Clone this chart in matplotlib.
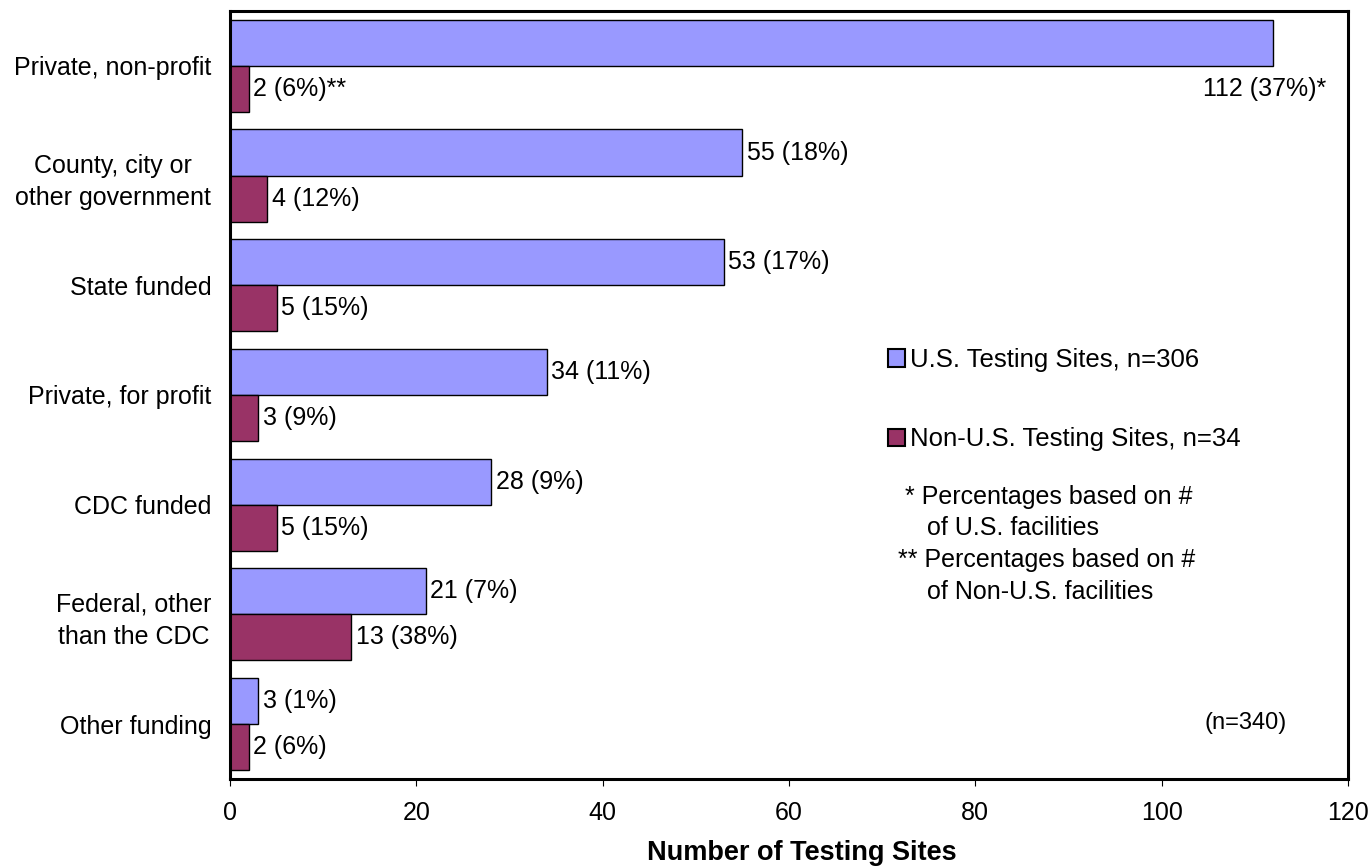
import numpy as np
import matplotlib.pyplot as plt
from matplotlib.patches import Patch

plt.rcParams['font.family'] = ['Liberation Sans', 'DejaVu Sans']

categories = ["Private, non-profit", "County, city or\nother government", "State funded",
              "Private, for profit", "CDC funded", "Federal, other\nthan the CDC", "Other funding"]
us_counts = [112, 55, 53, 34, 28, 21, 3]
us_pcts = [37, 18, 17, 11, 9, 7, 1]
non_us_counts = [2, 4, 5, 3, 5, 13, 2]
non_us_pcts = [6, 12, 15, 9, 15, 38, 6]

us_color = "#9999ff"
non_us_color = "#993366"
fs = 18

fig = plt.figure(figsize=(13.71, 8.66), dpi=100)
ax = fig.add_axes([0.1678, 0.1005, 0.8154, 0.8868])

y = np.arange(len(categories))
h = 0.42
ax.barh(y - h / 2, us_counts, height=h, color=us_color, edgecolor="black", linewidth=1)
ax.barh(y + h / 2, non_us_counts, height=h, color=non_us_color, edgecolor="black", linewidth=1)

for i in range(len(categories)):
    us_txt = f"{us_counts[i]} ({us_pcts[i]}%)"
    nu_txt = f"{non_us_counts[i]} ({non_us_pcts[i]}%)"
    if i == 0:
        # excel dropped this one below the bar since it runs out of room
        ax.text(us_counts[i] + 5.7, y[i] + h / 2, us_txt + "*", ha="right", va="center", fontsize=fs)
        nu_txt += "**"
    else:
        ax.text(us_counts[i] + 0.5, y[i] - h / 2, us_txt, ha="left", va="center", fontsize=fs)
    ax.text(non_us_counts[i] + 0.5, y[i] + h / 2, nu_txt, ha="left", va="center", fontsize=fs)

ax.set_xlim(0, 120)
ax.set_ylim(len(categories) - 0.5, -0.5)
ax.set_xticks(np.arange(0, 121, 20))
ax.set_yticks(y)
ax.set_yticklabels(categories, ha="right", multialignment="center", linespacing=1.4)
ax.tick_params(axis="y", length=0, labelsize=fs, pad=13.5)
ax.tick_params(axis="x", labelsize=fs, direction="out", length=5, pad=11)
for s in ax.spines.values():
    s.set_linewidth(2.2)
ax.set_xlabel("Number of Testing Sites", fontsize=19.5, fontweight="bold")
ax.xaxis.set_label_coords(0.5116, -0.079)

handles = [Patch(facecolor=us_color, edgecolor="black", linewidth=1.5, label="U.S. Testing Sites, n=306"),
           Patch(facecolor=non_us_color, edgecolor="black", linewidth=1.5, label="Non-U.S. Testing Sites, n=34")]
ax.legend(handles=handles, loc="center left", bbox_to_anchor=(0.5886, 0.494), frameon=False,
          fontsize=18.5, handlelength=0.66, handleheight=0.66, handletextpad=0.2,
          labelspacing=2.15, borderpad=0, borderaxespad=0)

notes = [(0.6038, 0.3672, "* Percentages based on #"),
         (0.6234, 0.3268, "of U.S. facilities"),
         (0.5975, 0.2852, "** Percentages based on #"),
         (0.6234, 0.2435, "of Non-U.S. facilities")]
for nx, ny, t in notes:
    ax.text(nx, ny, t, transform=ax.transAxes, fontsize=fs, ha="left", va="center")
ax.text(0.9088, 0.0729, "(n=340)", transform=ax.transAxes, fontsize=17, ha="center", va="center")

fig.savefig("out.png", dpi=100)
